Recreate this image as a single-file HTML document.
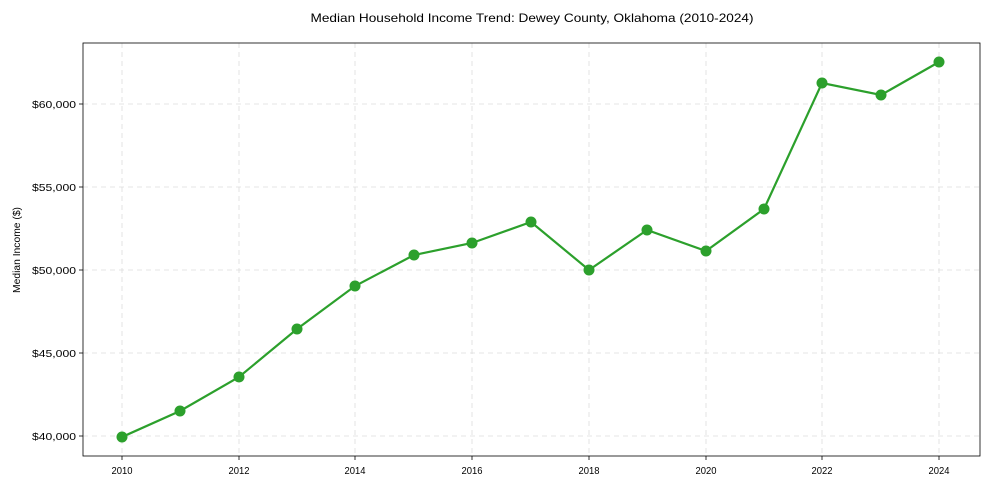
<!DOCTYPE html>
<html><head><meta charset="utf-8"><style>
body{margin:0;background:#fff;}
svg text{font-family:"Liberation Sans",Arial,sans-serif;fill:#000;}
</style></head><body>
<svg width="989" height="490" xmlns="http://www.w3.org/2000/svg">
<rect width="989" height="490" fill="#fff"/>
<text x="532" y="22" font-size="12" text-anchor="middle" textLength="443" lengthAdjust="spacingAndGlyphs">Median Household Income Trend: Dewey County, Oklahoma (2010-2024)</text>
<g stroke="#ddd" stroke-dasharray="5,4" stroke-width="0.8">
<line x1="122" y1="43" x2="122" y2="456"/><line x1="239" y1="43" x2="239" y2="456"/><line x1="355" y1="43" x2="355" y2="456"/><line x1="472" y1="43" x2="472" y2="456"/><line x1="589" y1="43" x2="589" y2="456"/><line x1="706" y1="43" x2="706" y2="456"/><line x1="822" y1="43" x2="822" y2="456"/><line x1="939" y1="43" x2="939" y2="456"/>
<line x1="83" y1="436" x2="980" y2="436"/><line x1="83" y1="353" x2="980" y2="353"/><line x1="83" y1="270" x2="980" y2="270"/><line x1="83" y1="187" x2="980" y2="187"/><line x1="83" y1="104" x2="980" y2="104"/>
</g>
<rect x="83" y="43" width="897" height="413" fill="none" stroke="#000" stroke-width="0.8"/>
<g stroke="#000" stroke-width="0.8">
<line x1="122" y1="456" x2="122" y2="460"/><line x1="239" y1="456" x2="239" y2="460"/><line x1="355" y1="456" x2="355" y2="460"/><line x1="472" y1="456" x2="472" y2="460"/><line x1="589" y1="456" x2="589" y2="460"/><line x1="706" y1="456" x2="706" y2="460"/><line x1="822" y1="456" x2="822" y2="460"/><line x1="939" y1="456" x2="939" y2="460"/>
<line x1="79" y1="436" x2="83" y2="436"/><line x1="79" y1="353" x2="83" y2="353"/><line x1="79" y1="270" x2="83" y2="270"/><line x1="79" y1="187" x2="83" y2="187"/><line x1="79" y1="104" x2="83" y2="104"/>
</g>
<g font-size="10.5" text-anchor="middle">
<text x="122" y="474" textLength="21" lengthAdjust="spacingAndGlyphs">2010</text><text x="239" y="474" textLength="21" lengthAdjust="spacingAndGlyphs">2012</text><text x="355" y="474" textLength="21" lengthAdjust="spacingAndGlyphs">2014</text><text x="472" y="474" textLength="21" lengthAdjust="spacingAndGlyphs">2016</text><text x="589" y="474" textLength="21" lengthAdjust="spacingAndGlyphs">2018</text><text x="706" y="474" textLength="21" lengthAdjust="spacingAndGlyphs">2020</text><text x="822" y="474" textLength="21" lengthAdjust="spacingAndGlyphs">2022</text><text x="939" y="474" textLength="21" lengthAdjust="spacingAndGlyphs">2024</text>
</g>
<g font-size="10.5">
<text x="32" y="440" textLength="44" lengthAdjust="spacingAndGlyphs">$40,000</text><text x="32" y="357" textLength="44" lengthAdjust="spacingAndGlyphs">$45,000</text><text x="32" y="274" textLength="44" lengthAdjust="spacingAndGlyphs">$50,000</text><text x="32" y="191" textLength="44" lengthAdjust="spacingAndGlyphs">$55,000</text><text x="32" y="108" textLength="44" lengthAdjust="spacingAndGlyphs">$60,000</text>
</g>
<text transform="translate(20,250) rotate(-90)" font-size="10.5" text-anchor="middle" textLength="86" lengthAdjust="spacingAndGlyphs">Median Income ($)</text>
<polyline fill="none" stroke="#2ca02c" stroke-width="2.2" points="122,437 180,411 239,377 297,329 355,286 414,255 472,243 531,222 589,270 647,230 706,251 764,209 822,83 881,95 939,62"/>
<g fill="#2ca02c">
<circle cx="122" cy="437" r="5.5"/><circle cx="180" cy="411" r="5.5"/><circle cx="239" cy="377" r="5.5"/><circle cx="297" cy="329" r="5.5"/><circle cx="355" cy="286" r="5.5"/><circle cx="414" cy="255" r="5.5"/><circle cx="472" cy="243" r="5.5"/><circle cx="531" cy="222" r="5.5"/><circle cx="589" cy="270" r="5.5"/><circle cx="647" cy="230" r="5.5"/><circle cx="706" cy="251" r="5.5"/><circle cx="764" cy="209" r="5.5"/><circle cx="822" cy="83" r="5.5"/><circle cx="881" cy="95" r="5.5"/><circle cx="939" cy="62" r="5.5"/>
</g>
</svg>
</body></html>
